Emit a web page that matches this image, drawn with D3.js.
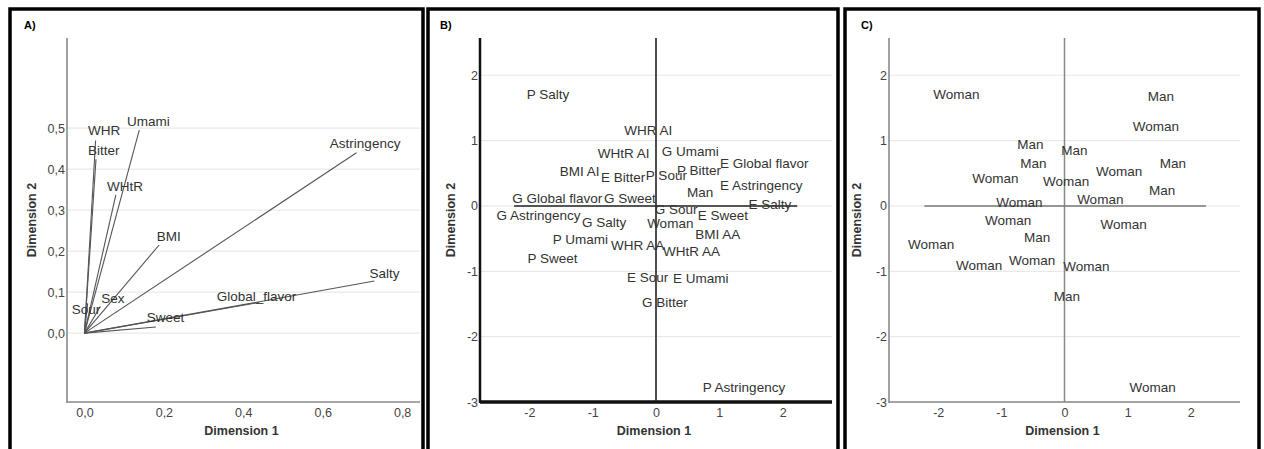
<!DOCTYPE html>
<html>
<head>
<meta charset="utf-8">
<script src="https://cdn.jsdelivr.net/npm/d3@7"></script>
<style>
  body { margin: 0; background: #fff; }
  svg { display: block; font-family: "Liberation Sans", Arial, sans-serif; }
</style>
</head>
<body>
<div id="container"></div>
<script>
// A) variable vectors: end points and label anchors (Dimension 1 / Dimension 2)
const vecNames = ["WHR", "Bitter", "Umami", "WHtR", "BMI", "Astringency", "Salty", "Global_flavor", "Sweet", "Sex", "Sour"];
const vecX = [0.028, 0.029, 0.138, 0.079, 0.188, 0.685, 0.73, 0.44, 0.18, 0.04, 0.008];
const vecY = [0.47, 0.424, 0.495, 0.337, 0.215, 0.44, 0.127, 0.075, 0.015, 0.065, 0.073];
const vecLabelX = [0.009, 0.009, 0.107, 0.057, 0.182, 0.618, 0.718, 0.333, 0.157, 0.042, -0.032];
const vecLabelY = [0.483, 0.434, 0.505, 0.346, 0.224, 0.451, 0.134, 0.078, 0.027, 0.073, 0.046];
const ticksAX = [0, 0.2, 0.4, 0.6, 0.8];
const ticksAY = [0, 0.1, 0.2, 0.3, 0.4, 0.5];

// B) category points
const catNames = ["P Salty", "WHR AI", "WHtR AI", "G Umami", "BMI AI", "E Bitter", "P Sour", "P Bitter",
  "E Global flavor", "E Astringency", "Man", "G Global flavor", "G Sweet", "E Salty", "G Astringency",
  "G Sour", "E Sweet", "G Salty", "Woman", "BMI AA", "P Umami", "WHR AA", "WHtR AA", "P Sweet",
  "E Sour", "E Umami", "G Bitter", "P Astringency"];
const catX = [-2.04, -0.50, -0.92, 0.09, -1.52, -0.87, -0.16, 0.33, 1.01, 1.01, 0.49, -2.27, -0.82, 1.46,
  -2.52, -0.02, 0.66, -1.17, -0.14, 0.62, -1.63, -0.71, 0.11, -2.03, -0.46, 0.27, -0.22, 0.74];
const catY = [1.63, 1.09, 0.74, 0.77, 0.46, 0.37, 0.40, 0.47, 0.58, 0.24, 0.14, 0.05, 0.05, -0.05,
  -0.21, -0.12, -0.21, -0.32, -0.34, -0.50, -0.58, -0.67, -0.76, -0.87, -1.16, -1.18, -1.54, -2.84];
const ticksBX = [-2, -1, 0, 1, 2];
const ticksBY = [2, 1, 0, -1, -2, -3];

// C) object points
const objNames = ["Woman", "Man", "Woman", "Man", "Man", "Man", "Man", "Woman", "Woman", "Woman", "Man",
  "Woman", "Woman", "Woman", "Woman", "Man", "Woman", "Woman", "Woman", "Woman", "Man", "Woman"];
const objX = [-2.08, 1.32, 1.08, -0.75, -0.05, -0.70, 1.51, -1.46, -0.34, 0.50, 1.34,
  -1.08, 0.20, -1.26, 0.57, -0.64, -2.48, -1.72, -0.88, -0.02, -0.17, 1.03];
const objY = [1.63, 1.60, 1.15, 0.87, 0.78, 0.58, 0.58, 0.35, 0.31, 0.46, 0.17,
  -0.02, 0.03, -0.29, -0.35, -0.55, -0.66, -0.98, -0.90, -0.99, -1.45, -2.84];

const W = 1264, H = 449;

const svg = d3.select("#container")
  .append("svg")
  .attr("width", W)
  .attr("height", H);

const comma = d => d3.format(".1f")(d).replace(".", ",");
const plain = d => String(d);

// panel frames
[[10, 423], [428, 838], [845, 1259]].forEach(([l, r]) => {
  svg.append("path")
    .attr("d", `M${l},${H + 5}V9H${r}V${H + 5}`)
    .attr("fill", "none")
    .attr("stroke", "#000")
    .attr("stroke-width", 3.5);
});

function panel(opts) {
  const g = svg.append("g");
  const x = d3.scaleLinear().domain(opts.xDomain).range([opts.left, opts.right]);
  const y = d3.scaleLinear().domain(opts.yDomain).range([402, 38]);

  // grid
  g.selectAll("line.grid")
    .data(opts.yTicks)
    .enter()
    .append("line")
    .attr("x1", opts.left)
    .attr("x2", opts.right)
    .attr("y1", d => y(d))
    .attr("y2", d => y(d))
    .attr("stroke", "#e9e9e9")
    .attr("stroke-width", 1.2);

  // tick labels
  const xAxis = g.append("g")
    .attr("transform", `translate(0,402)`)
    .call(d3.axisBottom(x).tickValues(opts.xTicks).tickSize(0).tickPadding(6).tickFormat(opts.fmt));
  const yAxis = g.append("g")
    .attr("transform", `translate(${opts.left},0)`)
    .call(d3.axisLeft(y).tickValues(opts.yTicks).tickSize(0).tickPadding(2).tickFormat(opts.fmt));
  [xAxis, yAxis].forEach(a => {
    a.select(".domain").remove();
    a.selectAll("text")
      .attr("fill", "#444")
      .style("font-size", "12.5px")
      .style("font-family", "'Liberation Sans', Arial, sans-serif");
  });

  // axis lines
  g.append("line")
    .attr("x1", opts.left).attr("x2", opts.left)
    .attr("y1", 38).attr("y2", 403)
    .attr("stroke", opts.axisColor)
    .attr("stroke-width", opts.axisWidth);
  g.append("line")
    .attr("x1", opts.left).attr("x2", opts.right)
    .attr("y1", 402).attr("y2", 402)
    .attr("stroke", opts.axisColor)
    .attr("stroke-width", opts.axisWidth + (opts.thickX || 0));

  // titles
  g.append("text")
    .attr("x", (opts.left + opts.right) / 2 - 2)
    .attr("y", 435)
    .attr("text-anchor", "middle")
    .style("font-weight", "bold")
    .style("font-size", "12.5px")
    .attr("fill", "#333")
    .text("Dimension 1");

  g.append("text")
    .attr("transform", `translate(${opts.titleY},220) rotate(-90)`)
    .attr("text-anchor", "middle")
    .style("font-weight", "bold")
    .style("font-size", "12.5px")
    .attr("fill", "#333")
    .text("Dimension 2");

  g.append("text")
    .attr("x", opts.tagX)
    .attr("y", 29)
    .style("font-weight", "bold")
    .style("font-size", "11px")
    .text(opts.tag);

  return { g, x, y };
}

// ---- A)
const A = panel({
  left: 67, right: 420, xDomain: [-0.044, 0.845], yDomain: [-0.168, 0.72],
  xTicks: ticksAX, yTicks: ticksAY, fmt: comma, axisColor: "#8a8a8a", axisWidth: 1.6,
  titleY: 36, tagX: 24, tag: "A)"
});

A.g.selectAll("line.vec")
  .data(vecNames)
  .enter()
  .append("line")
  .attr("x1", A.x(0))
  .attr("y1", A.y(0))
  .attr("x2", (d, i) => A.x(vecX[i]))
  .attr("y2", (d, i) => A.y(vecY[i]))
  .attr("stroke", "#555")
  .attr("stroke-width", 1.1);

A.g.selectAll("text.vec")
  .data(vecNames)
  .enter()
  .append("text")
  .attr("x", (d, i) => A.x(vecLabelX[i]))
  .attr("y", (d, i) => A.y(vecLabelY[i]))
  .attr("fill", "#333")
  .style("font-size", "13.5px")
  .text(d => d);

// ---- B)
const B = panel({
  left: 480, right: 832, xDomain: [-2.78, 2.78], yDomain: [-3, 2.57],
  xTicks: ticksBX, yTicks: ticksBY, fmt: plain, axisColor: "#111", axisWidth: 2.5, thickX: 0.8,
  titleY: 455, tagX: 440, tag: "B)"
});

B.g.append("line")
  .attr("x1", B.x(0)).attr("x2", B.x(0))
  .attr("y1", 38).attr("y2", 402)
  .attr("stroke", "#222").attr("stroke-width", 1.6);
B.g.append("line")
  .attr("x1", B.x(-2.24)).attr("x2", B.x(2.23))
  .attr("y1", B.y(0)).attr("y2", B.y(0))
  .attr("stroke", "#222").attr("stroke-width", 1.6);

B.g.selectAll("text.cat")
  .data(catNames)
  .enter()
  .append("text")
  .attr("x", (d, i) => B.x(catX[i]))
  .attr("y", (d, i) => B.y(catY[i]))
  .attr("fill", "#333")
  .style("font-size", "13.5px")
  .text(d => d);

// ---- C)
const C = panel({
  left: 889, right: 1240, xDomain: [-2.78, 2.78], yDomain: [-3, 2.57],
  xTicks: ticksBX, yTicks: ticksBY, fmt: plain, axisColor: "#8a8a8a", axisWidth: 1.6,
  titleY: 861, tagX: 861, tag: "C)"
});

C.g.append("line")
  .attr("x1", C.x(0)).attr("x2", C.x(0))
  .attr("y1", 38).attr("y2", 402)
  .attr("stroke", "#888").attr("stroke-width", 1.5);
C.g.append("line")
  .attr("x1", C.x(-2.22)).attr("x2", C.x(2.24))
  .attr("y1", C.y(0)).attr("y2", C.y(0))
  .attr("stroke", "#777").attr("stroke-width", 1.5);

C.g.selectAll("text.obj")
  .data(objNames)
  .enter()
  .append("text")
  .attr("x", (d, i) => C.x(objX[i]))
  .attr("y", (d, i) => C.y(objY[i]))
  .attr("fill", "#333")
  .style("font-size", "13.5px")
  .text(d => d);
</script>
</body>
</html>
